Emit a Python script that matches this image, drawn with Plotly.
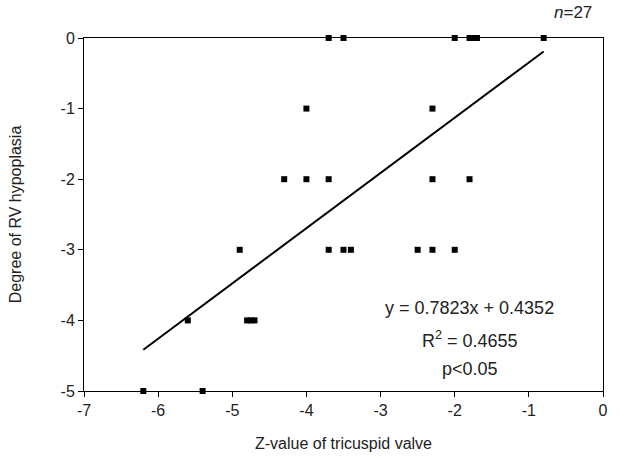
import plotly.graph_objects as go

# Data
z_values = [-3.7, -3.5, -2.0, -1.8, -1.75, -1.7, -0.8,
            -4.0, -2.3,
            -4.3, -4.0, -3.7, -2.3, -1.8,
            -4.9, -3.7, -3.5, -3.4, -2.5, -2.3, -2.0,
            -5.6, -4.8, -4.75, -4.7,
            -6.2, -5.4]
degree = [0, 0, 0, 0, 0, 0, 0,
          -1, -1,
          -2, -2, -2, -2, -2,
          -3, -3, -3, -3, -3, -3, -3,
          -4, -4, -4, -4,
          -5, -5]
slope = 0.7823
intercept = 0.4352
fit_x = [min(z_values), max(z_values)]
fit_y = [slope * v + intercept for v in fit_x]
x_ticks = [-7, -6, -5, -4, -3, -2, -1, 0]
y_ticks = [0, -1, -2, -3, -4, -5]

font = "Liberation Sans, Arial, sans-serif"

fig = go.Figure()
fig.add_trace(go.Scatter(x=fit_x, y=fit_y, mode="lines",
                         line=dict(color="black", width=2), hoverinfo="skip"))
fig.add_trace(go.Scatter(x=z_values, y=degree, mode="markers",
                         marker=dict(symbol="square", size=6, color="black"),
                         cliponaxis=False))

fig.update_layout(
    width=620, height=475,
    margin=dict(l=84, r=12, t=38, b=84),
    paper_bgcolor="white", plot_bgcolor="white",
    showlegend=False,
    font=dict(family=font, color="#222", size=16),
    xaxis=dict(range=[-7, 0], tickvals=x_ticks, ticktext=[str(v) for v in x_ticks],
               showgrid=False, zeroline=False, showline=True, linecolor="black",
               linewidth=1, mirror=True, ticks="outside", ticklen=5, tickcolor="black",
               title=dict(text="Z-value of tricuspid valve", font=dict(size=16), standoff=19),
               tickfont=dict(size=16)),
    yaxis=dict(range=[-5, 0], tickvals=y_ticks, ticktext=[str(v) for v in y_ticks],
               showgrid=False, zeroline=False, showline=True, linecolor="black",
               linewidth=1, mirror=True, ticks="outside", ticklen=5, tickcolor="black",
               title=dict(text="Degree of RV hypoplasia", font=dict(size=16), standoff=34),
               tickfont=dict(size=16)),
    annotations=[
        dict(x=-0.4, y=0, xref="x", yref="y", yshift=26, showarrow=False,
             text="<i>n</i>=27", font=dict(size=17, family=font, color="#222")),
        dict(x=-1.8, y=-3.83, xref="x", yref="y", showarrow=False,
             text="y = 0.7823x + 0.4352", font=dict(size=18, family=font, color="#222")),
        dict(x=-1.8, y=-4.27, xref="x", yref="y", showarrow=False,
             text="R<sup>2</sup> = 0.4655", font=dict(size=18, family=font, color="#222")),
        dict(x=-1.8, y=-4.69, xref="x", yref="y", showarrow=False,
             text="p<0.05", font=dict(size=18, family=font, color="#222")),
    ],
)

fig.write_html("out.html")
